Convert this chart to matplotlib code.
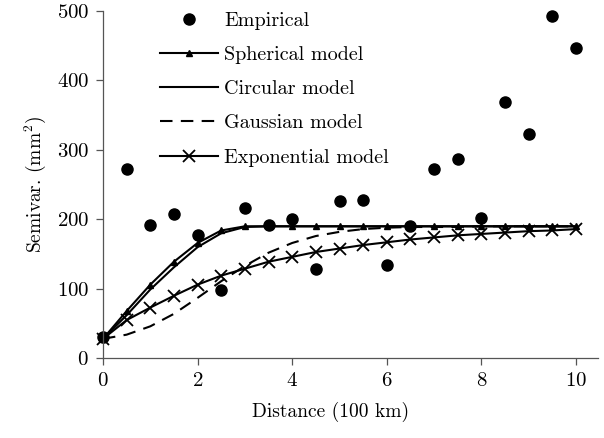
import matplotlib.pyplot as plt

# Lag distances (100 km) for the model curves
model_lags = [0, 0.5, 1, 1.5, 2, 2.5, 3, 3.5, 4, 4.5, 5,
              5.5, 6, 6.5, 7, 7.5, 8, 8.5, 9, 9.5, 10]

# Empirical semivariogram
emp_lags = [0, 0.5, 1, 1.5, 2, 2.5, 3, 3.5, 4, 4.5, 5,
            5.5, 6, 6.5, 7, 7.5, 8, 8.5, 9, 9.5, 10]
emp_values = [30, 273, 192, 207, 178, 98, 216, 192, 200, 129, 227,
              228, 135, 190, 273, 287, 202, 369, 323, 493, 447]

# Fitted models
spherical = [28, 68, 106, 139, 166, 184, 190, 190, 190, 190, 190,
             190, 190, 190, 190, 190, 190, 190, 190, 190, 190]
circular = [28, 62, 99, 131, 160, 180, 189, 190, 190, 190, 190,
            190, 190, 190, 190, 190, 190, 190, 190, 190, 190]
gaussian = [28, 34, 46, 64, 87, 111, 133, 152, 166, 176, 182,
            186, 188, 189, 189, 189, 190, 190, 190, 190, 190]
exponential = [28, 55, 73, 90, 106, 119, 129, 139, 146, 153, 158,
               163, 167, 171, 174, 177, 179, 181, 183, 184, 186]

plt.rcParams['font.family'] = 'cmr10'
plt.rcParams['mathtext.fontset'] = 'cm'
plt.rcParams['axes.formatter.use_mathtext'] = True

fig = plt.figure(figsize=(6.04, 4.38), dpi=100)
ax = fig.add_axes([0.1705, 0.182, 0.82, 0.793])

ax.plot(emp_lags, emp_values, 'o', color='black', markersize=8,
        linestyle='none', label='Empirical', clip_on=False)
ax.plot(model_lags, spherical, '-^', color='black', lw=1.5, markersize=5,
        label='Spherical model', clip_on=False)
ax.plot(model_lags, circular, '-', color='black', lw=1.5,
        label='Circular model', clip_on=False)
ax.plot(model_lags, gaussian, '--', color='black', lw=1.5, dashes=(6, 4),
        label='Gaussian model', clip_on=False)
ax.plot(model_lags, exponential, '-x', color='black', lw=1.5, markersize=9,
        markeredgewidth=1.3, label='Exponential model', clip_on=False)

ax.set_xlim(0, 10.47)
ax.set_ylim(0, 500)
ax.set_xticks([0, 2, 4, 6, 8, 10])
ax.set_yticks([0, 100, 200, 300, 400, 500])
ax.spines['top'].set_visible(False)
ax.spines['right'].set_visible(False)
for side in ['left', 'bottom']:
    ax.spines[side].set_color('#555555')
    ax.spines[side].set_linewidth(0.9)
ax.tick_params(direction='out', length=5, width=0.9, color='#555555',
               labelsize=15, pad=5)

ax.set_xlabel('Distance (100 km)', fontsize=14)
ax.xaxis.set_label_coords(0.46, -0.125)
ax.set_ylabel('Semivar. (mm$^2$)', fontsize=14, labelpad=6)

ax.legend(loc='upper left', bbox_to_anchor=(0.078, 1.05), frameon=False,
          fontsize=14.5, numpoints=1, handlelength=2.9, handletextpad=0.3,
          labelspacing=0.8)

fig.savefig('out.png', dpi=100)
